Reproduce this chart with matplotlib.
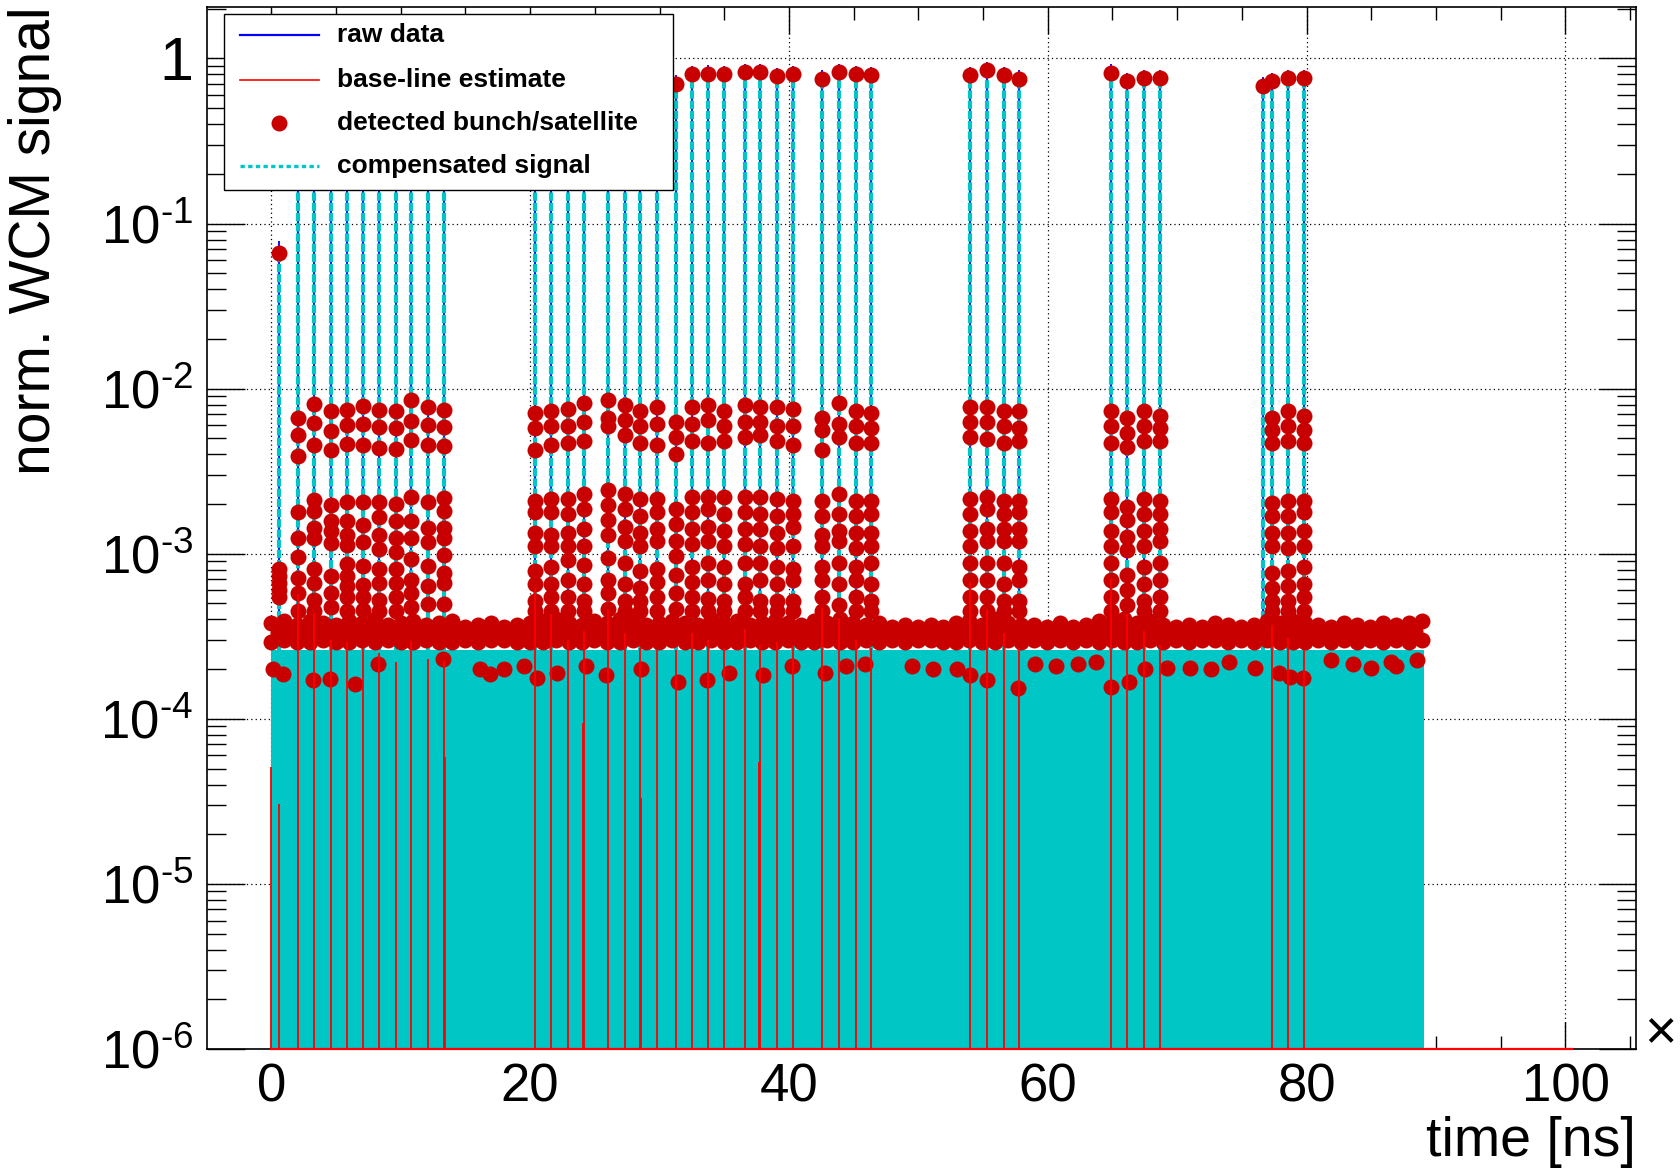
import numpy as np
import matplotlib.pyplot as plt
from matplotlib.lines import Line2D
from matplotlib.patches import Rectangle
from matplotlib.ticker import FixedLocator, FixedFormatter, MultipleLocator

plt.rcParams['font.family'] = ['Liberation Sans', 'DejaVu Sans']
plt.rcParams['mathtext.fontset'] = 'custom'
plt.rcParams['mathtext.rm'] = 'Liberation Sans'
plt.rcParams['mathtext.it'] = 'Liberation Sans:italic'
plt.rcParams['mathtext.bf'] = 'Liberation Sans:bold'

# ---- data (x in units of 10^3 ns) ----
bunch_x = [0.6, 2.1, 3.3, 4.6, 5.83, 7.07, 8.35, 9.62, 10.82, 12.1, 13.33,
           20.4, 21.63, 22.92, 24.15, 26.05, 27.33, 28.53, 29.8, 31.25, 32.5,
           33.78, 35.02, 36.58, 37.78, 39.07, 40.3,
           42.55, 43.85, 45.15, 46.35,
           54.0, 55.3, 56.6, 57.8,
           64.85, 66.15, 67.4, 68.65,
           76.6, 77.3, 78.55, 79.8]

bunch_peak = [0.066, 0.80, 0.82, 0.81, 0.79, 0.82, 0.81, 0.80, 0.82, 0.81, 0.80,
              0.80, 0.82, 0.81, 0.79, 0.83, 0.80, 0.81, 0.79, 0.70, 0.80,
              0.81, 0.80, 0.83, 0.83, 0.78, 0.80,
              0.75, 0.83, 0.80, 0.79,
              0.79, 0.85, 0.79, 0.75,
              0.82, 0.73, 0.76, 0.76,
              0.68, 0.73, 0.76, 0.76]

raw_peak = [0.078, 0.90, 0.92, 0.91, 0.89, 0.92, 0.91, 0.90, 0.92, 0.91, 0.90,
            0.90, 0.92, 0.91, 0.89, 0.93, 0.90, 0.91, 0.89, 0.79, 0.90,
            0.91, 0.90, 0.93, 0.93, 0.88, 0.90,
            0.85, 0.93, 0.90, 0.89,
            0.89, 0.95, 0.89, 0.85,
            0.92, 0.82, 0.85, 0.85,
            0.77, 0.82, 0.85, 0.85]

# satellite detections per bunch column (units of 1e-3)
sat_levels = [
    [0.805, 0.73, 0.665, 0.60, 0.548],
    [6.68, 5.25, 3.93, 1.78, 1.24, 0.953, 0.714, 0.575, 0.45],
    [8.09, 6.21, 4.55, 2.11, 1.82, 1.43, 1.24, 0.805, 0.665, 0.523, 0.45],
    [7.28, 5.51, 4.23, 1.96, 1.58, 1.37, 1.16, 0.731, 0.575, 0.475],
    [7.43, 6.01, 4.65, 2.06, 1.58, 1.30, 1.13, 0.865, 0.731, 0.633, 0.548, 0.45],
    [7.87, 6.07, 4.55, 2.06, 1.50, 1.18, 0.845, 0.649, 0.548, 0.453],
    [7.43, 5.84, 4.38, 2.06, 1.66, 1.30, 1.07, 0.805, 0.665, 0.523, 0.45],
    [7.28, 5.78, 4.33, 2.01, 1.58, 1.24, 1.02, 0.805, 0.665, 0.548, 0.45],
    [8.49, 6.37, 4.88, 2.21, 1.58, 1.24, 0.930, 0.697, 0.575, 0.475],
    [7.71, 6.01, 4.55, 2.06, 1.43, 1.18, 0.845, 0.633, 0.498],
    [7.43, 5.84, 4.50, 2.16, 1.82, 1.43, 1.24, 0.977, 0.767, 0.665, 0.498],
    [7.08, 5.75, 4.27, 2.09, 1.80, 1.34, 1.12, 0.783, 0.656, 0.517, 0.45],
    [7.30, 5.93, 4.53, 2.15, 1.80, 1.30, 1.12, 0.832, 0.656, 0.548, 0.45],
    [7.52, 5.93, 4.67, 2.15, 1.75, 1.34, 1.12, 0.910, 0.695, 0.548, 0.45],
    [8.22, 6.29, 4.81, 2.29, 1.86, 1.42, 1.12, 0.857, 0.656, 0.517, 0.45],
    [8.57, 6.67, 5.93, 2.43, 1.97, 1.60, 1.30, 0.937, 0.695, 0.582, 0.46],
    [7.97, 6.48, 5.26, 2.29, 1.86, 1.46, 1.19, 0.883, 0.656, 0.517, 0.45],
    [7.30, 5.93, 4.67, 2.15, 1.70, 1.34, 1.12, 0.783, 0.618, 0.517, 0.45],
    [7.74, 6.10, 4.53, 2.15, 1.80, 1.42, 1.19, 0.807, 0.675, 0.548, 0.45],
    [6.29, 5.11, 4.02, 1.86, 1.51, 1.19, 0.965, 0.738, 0.582, 0.46],
    [7.74, 6.10, 4.81, 2.22, 1.80, 1.42, 1.15, 0.832, 0.675, 0.548, 0.45],
    [7.97, 6.48, 4.67, 2.22, 1.86, 1.46, 1.19, 0.883, 0.695, 0.532, 0.45],
    [7.30, 5.93, 4.81, 2.22, 1.75, 1.38, 1.12, 0.832, 0.656, 0.517, 0.45],
    [7.97, 6.29, 5.11, 2.22, 1.80, 1.42, 1.15, 0.883, 0.656, 0.548, 0.45],
    [7.74, 6.29, 5.26, 2.22, 1.75, 1.42, 1.12, 0.883, 0.695, 0.517, 0.45],
    [7.74, 5.93, 4.81, 2.15, 1.70, 1.34, 1.09, 0.832, 0.656, 0.517, 0.45],
    [7.52, 5.93, 4.53, 2.09, 1.75, 1.46, 1.12, 0.807, 0.695, 0.517, 0.45],
    [6.67, 5.58, 4.27, 2.09, 1.70, 1.30, 1.12, 0.832, 0.695, 0.548, 0.45],
    [8.22, 6.10, 5.11, 2.29, 1.75, 1.38, 1.19, 0.883, 0.656, 0.487],
    [7.30, 5.93, 4.67, 2.09, 1.70, 1.34, 1.09, 0.832, 0.695, 0.548, 0.45],
    [7.08, 5.75, 4.67, 2.09, 1.75, 1.34, 1.12, 0.883, 0.656, 0.517, 0.45],
    [7.74, 6.29, 5.11, 2.15, 1.75, 1.38, 1.12, 0.883, 0.695, 0.548, 0.45],
    [7.74, 6.29, 4.96, 2.22, 1.86, 1.42, 1.19, 0.883, 0.695, 0.548, 0.45],
    [7.30, 5.93, 4.67, 2.09, 1.75, 1.42, 1.19, 0.883, 0.656, 0.517, 0.45],
    [7.30, 5.75, 4.81, 2.09, 1.80, 1.42, 1.19, 0.832, 0.695, 0.517, 0.45],
    [7.30, 5.93, 4.67, 2.15, 1.80, 1.38, 1.12, 0.883, 0.695, 0.548, 0.45],
    [6.67, 5.42, 4.40, 1.91, 1.60, 1.26, 1.05, 0.738, 0.600, 0.487],
    [7.30, 5.93, 4.81, 2.15, 1.75, 1.38, 1.12, 0.832, 0.656, 0.517, 0.45],
    [6.87, 5.75, 4.81, 2.09, 1.75, 1.42, 1.19, 0.883, 0.695, 0.548, 0.45],
    [],
    [6.67, 5.58, 4.67, 2.03, 1.70, 1.34, 1.12, 0.760, 0.618, 0.517, 0.45],
    [7.30, 5.93, 4.81, 2.09, 1.70, 1.34, 1.09, 0.783, 0.637, 0.517, 0.45],
    [6.87, 5.58, 4.67, 2.09, 1.80, 1.38, 1.12, 0.832, 0.656, 0.548, 0.45],
]

# noise band of detections along the whole orbit (units of 1e-4)
band_top = [3.8, 3.9, 3.7, 3.9, 3.8, 3.7, 3.9, 3.8, 4.0, 3.7, 3.8, 3.9, 3.7, 3.8, 3.9,
            3.6, 3.7, 3.8, 3.6, 3.7,
            3.8, 3.9, 4.0, 3.8, 3.7, 3.9, 3.8, 4.0, 3.9, 3.7, 3.8, 3.9, 3.8, 3.7, 4.0, 3.8,
            3.9, 3.7, 3.8, 3.9, 3.8, 3.7,
            3.9, 3.8, 4.0, 3.8, 3.7, 3.8,
            3.6, 3.7, 3.6, 3.7, 3.6,
            3.8, 3.9, 3.7, 4.0, 3.8, 3.7,
            3.7, 3.6, 3.8, 3.6, 3.7,
            3.9, 3.8, 4.0, 3.8, 3.9, 3.7,
            3.6, 3.7, 3.6, 3.8, 3.7, 3.6,
            3.7, 3.9, 3.8, 3.9, 3.8,
            3.7, 3.6, 3.8, 3.7, 3.6, 3.8, 3.7, 3.8, 3.9]
band_mid = [3.3, 3.4, 3.2, 3.3, 3.4, 3.3, 3.2, 3.4, 3.3, 3.3, 3.4, 3.2, 3.3, 3.4, 3.3,
            3.2, 3.3, 3.3, 3.2, 3.3,
            3.4, 3.3, 3.4, 3.2, 3.3, 3.4, 3.3, 3.3, 3.4, 3.2, 3.3, 3.4, 3.3, 3.2, 3.4, 3.3,
            3.3, 3.4, 3.2, 3.3, 3.4, 3.3,
            3.3, 3.4, 3.3, 3.2, 3.4, 3.3,
            3.2, 3.3, 3.2, 3.3, 3.2,
            3.3, 3.4, 3.3, 3.4, 3.2, 3.3,
            3.3, 3.2, 3.3, 3.2, 3.3,
            3.4, 3.3, 3.4, 3.3, 3.2, 3.3,
            3.2, 3.3, 3.2, 3.3, 3.2, 3.3,
            3.3, 3.4, 3.3, 3.4, 3.3,
            3.3, 3.2, 3.3, 3.2, 3.3, 3.2, 3.3, 3.4]
band_low = [2.9, 3.0, 2.9, 2.9, 3.0, 2.9, 2.9, 3.0, 2.9, 3.0, 2.9, 2.9, 3.0, 2.9, 2.9,
            3.0, 2.9, 3.0, 3.0, 2.9,
            2.9, 2.9, 3.0, 2.9, 2.9, 3.0, 2.9, 2.9, 3.0, 2.9, 2.9, 3.0, 2.9, 2.9, 3.0, 2.9,
            2.9, 3.0, 2.9, 2.9, 3.0, 2.9,
            2.9, 3.0, 2.9, 2.9, 3.0, 2.9,
            3.0, 2.9, 3.0, 3.0, 2.9,
            2.9, 3.0, 2.9, 2.9, 3.0, 2.9,
            3.0, 2.9, 3.0, 2.9, 3.0,
            2.9, 3.0, 2.9, 2.9, 3.0, 2.9,
            3.0, 2.9, 3.0, 3.0, 2.9, 3.0,
            2.9, 3.0, 2.9, 2.9, 2.9,
            3.0, 2.9, 3.0, 2.9, 3.0, 2.9, 3.0, 2.9, 3.0]

# isolated low detections under the band (x, units of 1e-4)
low_x = [0.16, 0.94, 3.25, 4.54, 6.47, 8.27, 13.3, 16.1, 16.9, 18.0, 19.5,
         20.5, 22.1, 24.3, 25.9, 28.6, 31.4, 33.7, 35.4, 38.0, 40.2,
         42.8, 44.4, 45.9, 49.5, 51.1, 53.0,
         54.0, 55.3, 57.7, 59.0, 60.6, 62.3, 63.7,
         64.9, 66.3, 67.5, 69.2, 71.0, 72.65, 74.0, 76.0,
         77.9, 78.7, 79.7, 81.9, 83.6, 85.0, 86.5, 86.9, 88.5]
low_y = [2.01, 1.87, 1.71, 1.74, 1.63, 2.15, 2.29, 2.01, 1.87, 2.0, 2.1,
         1.76, 1.9, 2.08, 1.84, 1.99, 1.66, 1.71, 1.90, 1.84, 2.08,
         1.9, 2.08, 2.14, 2.08, 1.99, 1.99,
         1.84, 1.71, 1.53, 2.14, 2.08, 2.14, 2.2,
         1.56, 1.66, 1.99, 2.04, 2.04, 2.0, 2.2, 2.04,
         1.9, 1.8, 1.77, 2.26, 2.14, 2.04, 2.2, 2.1, 2.26]

# base-line estimate spikes (x, top in units of 1e-4)
base_x = [0.0, 0.6, 2.1, 3.3, 4.6, 5.83, 7.07, 8.35, 9.62, 10.82, 12.1, 13.33, 13.4,
          20.4, 21.63, 22.92, 24.15, 24.1, 26.05, 27.33, 28.53, 28.58, 29.8, 31.25,
          32.5, 33.78, 35.02, 36.58, 37.78, 37.72, 39.07, 40.3,
          42.55, 43.85, 45.15, 46.35, 54.0, 55.3, 56.6, 57.8,
          64.85, 66.15, 67.4, 68.65, 77.3, 78.55, 79.8]
base_top = [0.51, 0.305, 5.7, 4.4, 3.0, 2.9, 2.7, 2.5, 2.2, 2.95, 2.3, 2.25, 0.59,
            6.2, 4.3, 3.0, 3.4, 0.94, 4.6, 3.3, 2.7, 0.33, 2.6, 2.6,
            3.3, 3.0, 2.7, 3.5, 2.8, 0.55, 2.9, 2.8,
            4.7, 4.1, 3.0, 2.7, 6.7, 4.6, 3.3, 2.7,
            7.0, 4.3, 3.4, 2.8, 3.7, 3.1, 2.6]
base_line_x = [0.0, 100.5]
base_line_y = [1e-6, 1e-6]

# compensated signal floor
comp_x = [0.0, 89.1]
comp_level = [2.6e-4, 2.6e-4]

W, H = 1681, 1172
CYAN = '#00c6c6'
DRED = '#c80000'
MS = 11.5

fig = plt.figure(figsize=(W / 100, H / 100), dpi=100)
ax = fig.add_axes([207.3 / W, 1 - 1049 / H, (1636 - 207.3) / W, (1049 - 7.3) / H])
ax.set_yscale('log')
ax.set_xlim(-4.94, 105.45)
ax.set_ylim(1e-6, 2.04)
ax.set_axisbelow(True)

# raw data (under the compensated signal)
ax.vlines(bunch_x, 2.6e-4, raw_peak, colors='#0000ff', lw=1.3, zorder=1.5)
# compensated signal
ax.fill_between(comp_x, 1e-7, comp_level, color=CYAN, lw=0, zorder=1.6)
ax.vlines(bunch_x, 2.6e-4, bunch_peak, colors=CYAN, lw=3.0,
          linestyles=[(0, (2.0, 0.45))], zorder=1.7)

# detected bunches / satellites
sat_x = np.concatenate([np.full(len(s), x) for x, s in zip(bunch_x, sat_levels)])
sat_y = np.concatenate([np.array(s, dtype=float) for s in sat_levels]) * 1e-3
band_x = np.linspace(0, 88.9, len(band_top))
mid_x = (band_x[:-1] + band_x[1:]) / 2
ax.fill_between(band_x, np.array(band_low) * 1e-4, np.array(band_top) * 1e-4,
                color=DRED, lw=0, zorder=2.9)
mk = dict(ls='none', marker='o', ms=MS, mew=0, color=DRED, zorder=3)
ax.plot(band_x, np.array(band_top) * 1e-4, **mk)
ax.plot(mid_x, np.array(band_mid) * 1e-4, **mk)
ax.plot(band_x, np.array(band_low) * 1e-4, **mk)
ax.plot(low_x, np.array(low_y) * 1e-4, **mk)
ax.plot(sat_x, sat_y, **mk)
ax.plot(bunch_x, bunch_peak, **mk)

# base-line estimate
ax.vlines(base_x, 1e-7, np.array(base_top) * 1e-4, colors='#ff0000', lw=1.3, zorder=4)
ax.plot(base_line_x, base_line_y, color='#ff0000', lw=1.6, clip_on=False, zorder=4)

# axes styling (ROOT look)
ax.grid(True, which='major', color='black', linestyle=(0, (1, 2.5)), linewidth=0.9)
ax.xaxis.set_major_locator(MultipleLocator(20))
ax.xaxis.set_minor_locator(MultipleLocator(5))
ydec = [1e-6, 1e-5, 1e-4, 1e-3, 1e-2, 1e-1, 1]
hy = '\u2010'
ylabels = [r'$\mathregular{10^{' + hy + str(k) + '}}$' for k in (6, 5, 4, 3, 2, 1)] + ['1']
ax.yaxis.set_major_locator(FixedLocator(ydec))
ax.yaxis.set_major_formatter(FixedFormatter(ylabels))
ax.yaxis.set_minor_locator(FixedLocator(
    [m * d for d in ydec for m in range(2, 10)]))
ax.yaxis.set_minor_formatter(FixedFormatter([]))
ax.tick_params(which='both', direction='in', top=True, right=True, width=1.0,
               labelsize=38, pad=10, color='black')
ax.xaxis.set_tick_params(which='major', length=19.5)
ax.xaxis.set_tick_params(which='minor', length=9.5)
ax.yaxis.set_tick_params(which='major', length=27)
ax.yaxis.set_tick_params(which='minor', length=14)
for lab in ax.get_yticklabels():
    if lab.get_text() == '1':
        lab.set_fontsize(44)
for sp in ax.spines.values():
    sp.set_linewidth(1.2)
    sp.set_zorder(2.5)

fig.text(35 / W, 1 - 6 / H, 'norm. WCM signal', rotation=90, ha='center', va='top',
         fontsize=41)
fig.text(1636 / W, 1 - 1142 / H, 'time [ns]', ha='right', va='center', fontsize=40)
fig.text(1644 / W, 1 - 1034 / H, '×', ha='left', va='center', fontsize=40)

# legend box
def fx(px):
    return px / W


def fy(py):
    return 1 - py / H


fig.add_artist(Rectangle((fx(224), fy(190)), fx(673) - fx(224), fy(14) - fy(190),
                         transform=fig.transFigure, facecolor='white',
                         edgecolor='black', lw=1.0, zorder=10))
rows = [35, 80, 123, 166]
labels = ['raw data', 'base-line estimate', 'detected bunch/satellite', 'compensated signal']
fig.add_artist(Line2D([fx(240), fx(319)], [fy(rows[0])] * 2, color='#0000ff', lw=1.6,
                      transform=fig.transFigure, zorder=11))
fig.add_artist(Line2D([fx(240), fx(319)], [fy(rows[1])] * 2, color='#ff0000', lw=1.2,
                      transform=fig.transFigure, zorder=11))
fig.add_artist(Line2D([fx(279)], [fy(rows[2])], ls='none', marker='o', ms=MS, mew=0,
                      color=DRED, transform=fig.transFigure, zorder=11))
fig.add_artist(Line2D([fx(240), fx(319)], [fy(rows[3])] * 2, color=CYAN, lw=2.4,
                      ls=(0, (1.3, 1.0)), transform=fig.transFigure, zorder=11))
for r, lab in zip(rows, labels):
    fig.text(fx(337), fy(r), lab, ha='left', va='center', fontsize=19,
             fontweight='bold', zorder=12)

fig.savefig('out.png', dpi=100)
